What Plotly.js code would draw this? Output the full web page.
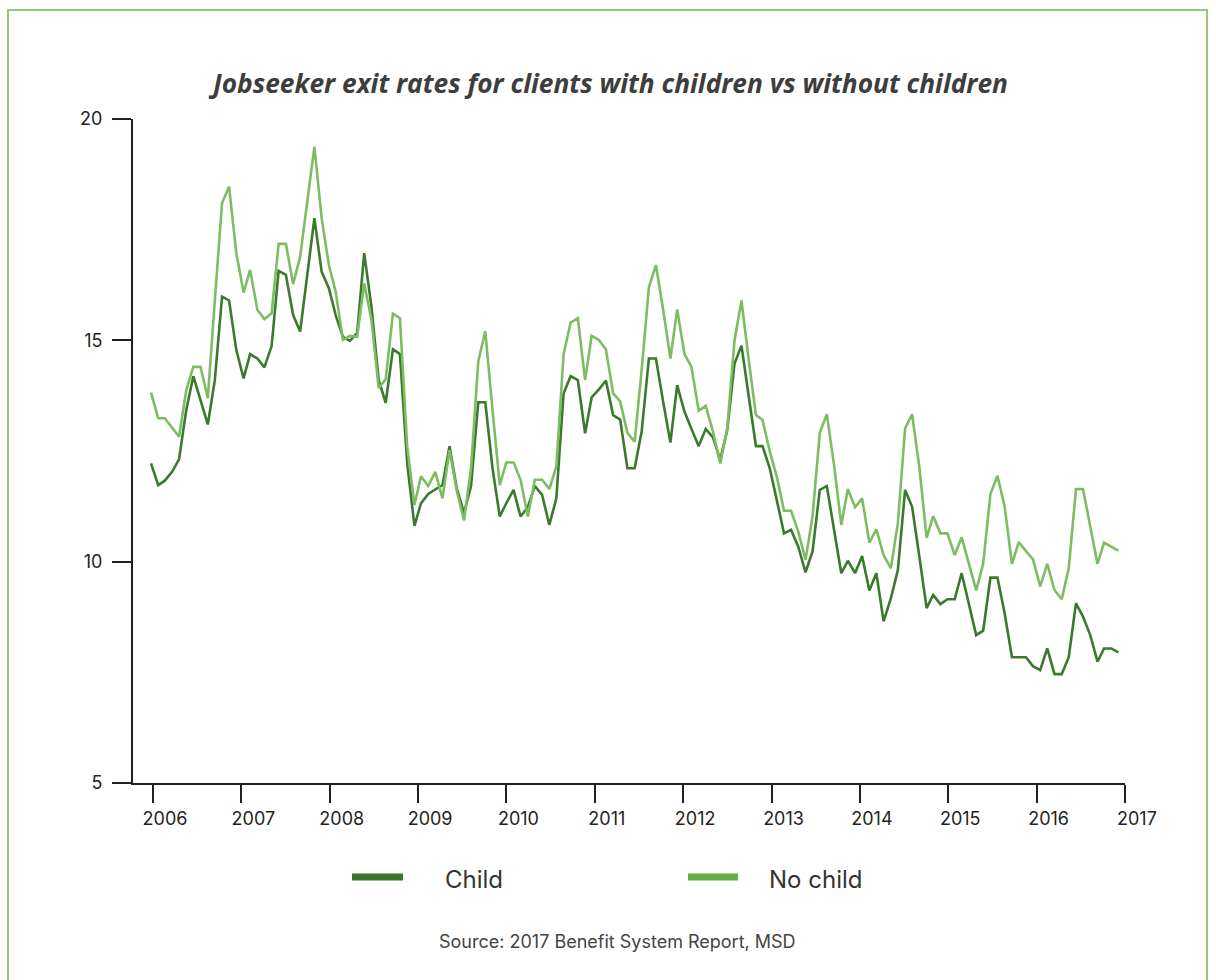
<!DOCTYPE html>
<html>
<head>
<meta charset="utf-8">
<script src="https://cdn.plot.ly/plotly-3.0.1.min.js"></script>
<style>
  html, body { margin: 0; padding: 0; background: #ffffff; }
  #frame { position: absolute; left: 7px; top: 9px; width: 1201px; height: 1000px;
           border: 2px solid #93c97d; box-sizing: border-box; }
  #chart { position: absolute; left: 0; top: 0; width: 1216px; height: 980px; }
</style>
</head>
<body>
<div id="frame"></div>
<div id="chart"></div>
<script>
// Monthly jobseeker exit rates, starting January 2006
const startYear = 2006;
const childRate = [
  12.22, 11.73, 11.83, 12.03, 12.31, 13.43, 14.19, 13.65, 13.10, 14.10, 15.99, 15.90,
  14.78, 14.14, 14.69, 14.59, 14.39, 14.87, 16.57, 16.48, 15.57, 15.20, 16.50, 17.76,
  16.55, 16.18, 15.57, 15.08, 14.99, 15.17, 16.97, 15.76, 14.10, 13.59, 14.80, 14.69,
  12.22, 10.81, 11.32, 11.53, 11.63, 11.73, 12.61, 11.66, 11.10, 11.71, 13.60, 13.60,
  12.11, 11.02, 11.32, 11.62, 11.02, 11.23, 11.71, 11.51, 10.83, 11.43, 13.80, 14.19,
  14.10, 12.90, 13.71, 13.89, 14.09, 13.31, 13.21, 12.11, 12.11, 12.94, 14.59, 14.59,
  13.61, 12.69, 13.99, 13.39, 13.00, 12.61, 13.00, 12.81, 12.30, 12.97, 14.47, 14.88,
  13.73, 12.61, 12.61, 12.11, 11.39, 10.64, 10.72, 10.34, 9.76, 10.23, 11.62, 11.71,
  10.72, 9.74, 10.02, 9.74, 10.13, 9.35, 9.74, 8.65, 9.17, 9.81, 11.62, 11.24,
  10.11, 8.95, 9.25, 9.04, 9.15, 9.15, 9.74, 9.02, 8.34, 8.44, 9.64, 9.64,
  8.83, 7.84, 7.84, 7.84, 7.64, 7.55, 8.04, 7.46, 7.46, 7.84, 9.06, 8.76,
  8.34, 7.74, 8.04, 8.04, 7.95
];
const noChildRate = [
  13.82, 13.24, 13.24, 13.03, 12.82, 13.88, 14.40, 14.40, 13.69, 15.90, 18.10, 18.47,
  16.97, 16.08, 16.59, 15.69, 15.48, 15.61, 17.18, 17.18, 16.27, 16.89, 18.10, 19.37,
  17.76, 16.70, 16.10, 15.01, 15.10, 15.08, 16.29, 15.46, 13.92, 14.12, 15.60, 15.50,
  12.60, 11.28, 11.93, 11.71, 12.03, 11.43, 12.52, 11.60, 10.93, 12.11, 14.52, 15.21,
  13.43, 11.73, 12.24, 12.24, 11.85, 11.02, 11.85, 11.85, 11.64, 12.15, 14.69, 15.40,
  15.50, 14.10, 15.10, 15.01, 14.80, 13.80, 13.62, 12.91, 12.71, 14.33, 16.20, 16.70,
  15.69, 14.59, 15.70, 14.69, 14.40, 13.41, 13.52, 12.94, 12.22, 13.01, 14.99, 15.90,
  14.56, 13.31, 13.20, 12.49, 11.92, 11.15, 11.15, 10.68, 10.04, 11.02, 12.91, 13.33,
  12.18, 10.83, 11.64, 11.23, 11.43, 10.43, 10.73, 10.15, 9.85, 10.87, 13.01, 13.33,
  12.13, 10.54, 11.03, 10.64, 10.64, 10.15, 10.55, 9.96, 9.35, 9.95, 11.53, 11.94,
  11.24, 9.95, 10.44, 10.24, 10.05, 9.44, 9.95, 9.36, 9.15, 9.85, 11.64, 11.64,
  10.79, 9.95, 10.43, 10.34, 10.25
];
const yearLabels = ['2006','2007','2008','2009','2010','2011','2012','2013','2014','2015','2016','2017'];
const yTicks = [5, 10, 15, 20];
const seriesNames = ['Child', 'No child'];
const titleText = 'Jobseeker exit rates for clients with children vs without children';
const sourceText = 'Source: 2017 Benefit System Report, MSD';

// month dates for each observation
const months = childRate.map((_, i) => {
  const y = startYear + Math.floor(i / 12);
  const m = (i % 12) + 1;
  return y + '-' + String(m).padStart(2, '0') + '-01';
});

// layout geometry (pixels)
const W = 1216, H = 980;
const mL = 133, mR = 91, mT = 119, mB = 197;
const plotW = W - mL - mR, plotH = H - mT - mB;
const firstPx = 18, lastPx = 985.3;          // where first/last observation sit inside plot
const t0 = Date.UTC(startYear, 0, 1);
const tN = Date.UTC(startYear, childRate.length - 1, 1);
const msPerPx = (tN - t0) / (lastPx - firstPx);
const xRange = [t0 - firstPx * msPerPx, t0 + (plotW - firstPx) * msPerPx];
const tickPx = yearLabels.map((_, j) => 20 + 88.36 * j);
const xTickVals = tickPx.map(p => t0 + (p - firstPx) * msPerPx);

const childColor = '#3a7a2c', noChildColor = '#7cbd63';
const childKey = '#3b7329', noChildKey = '#62ad47';
const axisColor = '#231f20';
const tickFont = { family: 'Inter, Roboto, sans-serif', size: 18, color: axisColor };

const traces = [
  { x: months, y: childRate, name: seriesNames[0], type: 'scatter', mode: 'lines',
    line: { color: childColor, width: 2.6 }, showlegend: false },
  { x: months, y: noChildRate, name: seriesNames[1], type: 'scatter', mode: 'lines',
    line: { color: noChildColor, width: 2.6 }, showlegend: false }
];

// paper coordinate helpers
const px2x = p => (p - mL) / plotW;
const px2y = p => (H - mB - p) / plotH;

const legendY = 877;
const layout = {
  width: W, height: H, autosize: false,
  margin: { l: mL, r: mR, t: mT, b: mB, pad: 0 },
  paper_bgcolor: 'rgba(0,0,0,0)', plot_bgcolor: 'rgba(0,0,0,0)',
  title: { text: titleText, x: 610.5 / W, xanchor: 'center', xref: 'container',
           y: 1 - 84 / H, yanchor: 'middle', yref: 'container',
           font: { family: '"Open Sans", sans-serif', size: 26.3, weight: 700, style: 'italic', color: '#3d3d3d' } },
  xaxis: {
    type: 'date', range: xRange, tickmode: 'array', tickvals: xTickVals, ticktext: yearLabels,
    showgrid: false, zeroline: false, showline: true, linecolor: axisColor, linewidth: 2,
    ticks: 'outside', ticklen: 18, tickwidth: 2, tickcolor: axisColor,
    tickfont: tickFont, ticklabelshift: 12, fixedrange: true
  },
  yaxis: {
    range: [5, 20], tickmode: 'array', tickvals: yTicks, ticktext: yTicks.map(String),
    showgrid: false, zeroline: false, showline: true, linecolor: axisColor, linewidth: 2,
    ticks: 'outside', ticklen: 19, tickwidth: 2, tickcolor: axisColor,
    tickfont: tickFont, ticklabelstandoff: 6, fixedrange: true
  },
  showlegend: false,
  shapes: [
    { type: 'line', xref: 'paper', yref: 'paper', x0: px2x(352), x1: px2x(403),
      y0: px2y(legendY), y1: px2y(legendY), line: { color: childKey, width: 7 } },
    { type: 'line', xref: 'paper', yref: 'paper', x0: px2x(688), x1: px2x(738),
      y0: px2y(legendY), y1: px2y(legendY), line: { color: noChildKey, width: 7 } }
  ],
  annotations: [
    { text: seriesNames[0], xref: 'paper', yref: 'paper', x: px2x(443), y: px2y(legendY + 2),
      xanchor: 'left', yanchor: 'middle', showarrow: false,
      font: { family: 'Inter, Roboto, sans-serif', size: 24, color: '#333333' } },
    { text: seriesNames[1], xref: 'paper', yref: 'paper', x: px2x(767), y: px2y(legendY + 2),
      xanchor: 'left', yanchor: 'middle', showarrow: false,
      font: { family: 'Inter, Roboto, sans-serif', size: 24, color: '#333333' } },
    { text: sourceText, xref: 'paper', yref: 'paper', x: px2x(617), y: px2y(941),
      xanchor: 'center', yanchor: 'middle', showarrow: false,
      font: { family: 'Inter, Roboto, sans-serif', size: 18, color: '#444444' } }
  ]
};

Plotly.newPlot('chart', traces, layout, { displayModeBar: false, staticPlot: true });
</script>
</body>
</html>
